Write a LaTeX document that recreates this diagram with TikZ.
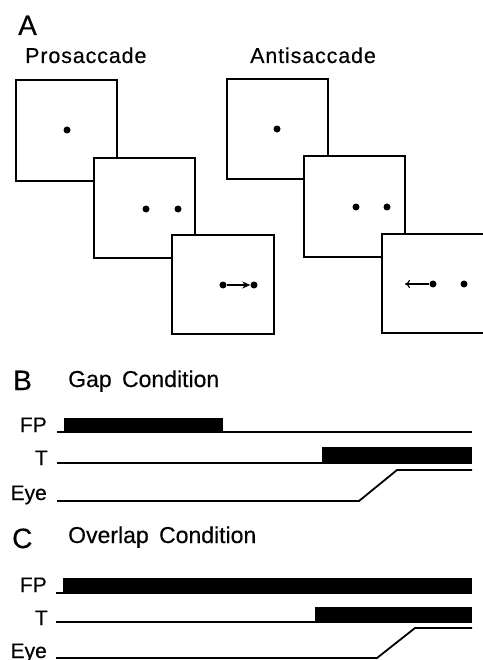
\documentclass[tikz,border=0pt]{standalone}
\usepackage{fontspec}
\setmainfont{Liberation Sans}[FakeBold=0.4]
\newfontfamily\spaced{Liberation Sans}[LetterSpace=4,FakeBold=0.4]
\usetikzlibrary{arrows.meta}
\tikzset{
  screen/.style={draw=black, fill=white, line width=1.8pt},
  dotmark/.style={circle, fill=black, inner sep=0pt, minimum size=7pt},
  bigletter/.style={font=\fontsize{28}{28}\selectfont, inner sep=0pt, anchor=base west},
  title/.style={font=\spaced\fontsize{21.5}{21.5}\selectfont, inner sep=0pt, anchor=base west},
  cond/.style={font=\fontsize{23}{23}\selectfont, inner sep=0pt, anchor=base west},
  sig/.style={font=\fontsize{21}{21}\selectfont, inner sep=0pt, anchor=base east},
  base/.style={line width=1.6pt},
  bar/.style={fill=black},
  eyeline/.style={line width=1.8pt}
}
\begin{document}
\begin{tikzpicture}[x=1pt,y=-1pt]
\useasboundingbox (0,0) rectangle (482,660);
% Panel A
\node[bigletter] (lA) at (18,35) {A};
\node[title] (tpro) at (25,63) {Prosaccade};
\node[title] (tanti) at (250,63) {Antisaccade};
% prosaccade screens
\draw[screen] (16,80) rectangle (117,181);
\node[dotmark] (p1) at (67,130) {};
\draw[screen] (94,158) rectangle (195,258);
\node[dotmark] (p2a) at (146,209) {};
\node[dotmark] (p2b) at (178,209) {};
\draw[screen] (172,235) rectangle (274,334);
\node[dotmark] (p3a) at (223,285) {};
\node[dotmark] (p3b) at (254,285) {};
\draw[line width=1.1pt,-{Stealth[length=8pt,width=7pt,inset=2.5pt]}] (p3a) -- (p3b);
% antisaccade screens
\draw[screen] (227,79) rectangle (328,179);
\node[dotmark] (a1) at (277,129) {};
\draw[screen] (304,156) rectangle (405,257);
\node[dotmark] (a2a) at (356,207) {};
\node[dotmark] (a2b) at (387,207) {};
\draw[screen] (382,234) rectangle (486,333);
\node[dotmark] (a3a) at (433,284) {};
\node[dotmark] (a3b) at (464,284) {};
\coordinate (a3tip) at (405,284);
\draw[line width=1.1pt,-{To[length=5pt,width=8pt]}] (a3a) -- (a3tip);
% Panel B
\node[bigletter] (lB) at (13,390) {B};
\node[cond] (tgap) at (68,387) {Gap\hspace{4pt} Condition};
\node[sig] (bfp) at (47,432) {FP};
\node[sig] (bt) at (48,465) {T};
\node[sig] (beye) at (47,500) {Eye};
\coordinate (bfp0) at (57,432); \coordinate (bfp1) at (472,432);
\draw[base] (bfp0) -- (bfp1);
\fill[bar] (64,418) rectangle (223,432.8);
\coordinate (bt0) at (57,463); \coordinate (bt1) at (472,463);
\draw[base] (bt0) -- (bt1);
\fill[bar] (322,447) rectangle (472,463.8);
\coordinate (be0) at (57,501); \coordinate (be1) at (359,501);
\coordinate (be2) at (397,470); \coordinate (be3) at (472,470);
\draw[eyeline] (be0) -- (be1) -- (be2) -- (be3);
% Panel C
\node[bigletter] (lC) at (12,548) {C};
\node[cond] (tover) at (68,543) {Overlap\hspace{4pt} Condition};
\node[sig] (cfp) at (47,592) {FP};
\node[sig] (ct) at (48,625) {T};
\node[sig] (ceye) at (47,658) {Eye};
\coordinate (cfp0) at (56,593); \coordinate (cfp1) at (472,593);
\draw[base] (cfp0) -- (cfp1);
\fill[bar] (63,578) rectangle (472,593.8);
\coordinate (ct0) at (56,622); \coordinate (ct1) at (472,622);
\draw[base] (ct0) -- (ct1);
\fill[bar] (315,607) rectangle (472,622.8);
\coordinate (ce0) at (56,658); \coordinate (ce1) at (377,658);
\coordinate (ce2) at (415,628); \coordinate (ce3) at (472,628);
\draw[eyeline] (ce0) -- (ce1) -- (ce2) -- (ce3);
\end{tikzpicture}
\end{document}
